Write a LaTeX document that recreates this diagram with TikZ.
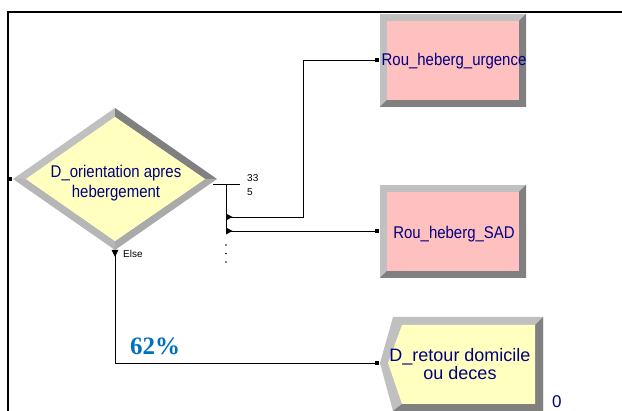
\documentclass[tikz,border=0pt]{standalone}
\usepackage{fontspec}
\setmainfont{Liberation Sans}
\newfontfamily\serifb{Liberation Serif}
\newfontfamily\condfont[FakeStretch=0.88]{Liberation Sans}
\definecolor{navy}{RGB}{0,0,128}
\definecolor{bvlight}{RGB}{192,192,192}
\definecolor{bvdark}{RGB}{128,128,128}
\definecolor{bvmid}{RGB}{170,170,170}
\definecolor{bvmidl}{RGB}{182,182,182}
\definecolor{pinkfill}{RGB}{255,192,192}
\definecolor{yelfill}{RGB}{255,255,192}
\definecolor{pctblue}{RGB}{0,112,192}
\newcommand\bevbox[6]{%
  \fill[bvlight] (#1,#2) rectangle (#3,#4);
  \fill[bvdark] (#3,#2) -- (#3,#4) -- (#1,#4) -- (#1+#5,#4-#5) -- (#3-#5,#4-#5) -- (#3-#5,#2+#5) -- cycle;
  \fill[#6] (#1+#5,#2+#5) rectangle (#3-#5,#4-#5);
}
\begin{document}
\begin{tikzpicture}[x=1pt,y=-1pt,
  conn/.style={line width=0.8pt, black},
  entry/.style={fill=black, inner sep=0pt, minimum size=3.5pt},
  lbl/.style={text=navy, inner sep=0pt, font=\condfont\fontsize{17}{20}\selectfont},
  small/.style={anchor=base west, inner sep=0pt, font=\fontsize{10}{12}\selectfont}]
\useasboundingbox (0,0) rectangle (622,411);
\fill[white] (0,0) rectangle (622,411);

% decision diamond
\coordinate (oL) at (13,179); \coordinate (oT) at (115,108);
\coordinate (oR) at (217,179); \coordinate (oB) at (115,250);
\coordinate (iL) at (26,179); \coordinate (iT) at (115,117);
\coordinate (iR) at (205,179); \coordinate (iB) at (115,241);
\fill[bvlight] (oL) -- (oT) -- (iT) -- (iL) -- cycle;
\fill[bvdark] (oT) -- (oR) -- (iR) -- (iT) -- cycle;
\fill[bvmid] (oR) -- (oB) -- (iB) -- (iR) -- cycle;
\fill[bvmidl] (oB) -- (oL) -- (iL) -- (iB) -- cycle;
\fill[yelfill] (iL) -- (iT) -- (iR) -- (iB) -- cycle;
\node[lbl, align=center] (dec) at (116,183) {D\_orientation apres\\hebergement};
\node[entry] (decIn) at (10,179) {};

% process boxes
\bevbox{380}{14}{526}{107}{7}{pinkfill}
\bevbox{380}{185}{526}{278}{7}{pinkfill}
\node[lbl, anchor=base] (urg) at (454,66) {Rou\_heberg\_urgence};
\node[lbl, anchor=base] (sad) at (454,239) {Rou\_heberg\_SAD};
\node[entry] (urgIn) at (377,60) {};
\node[entry] (sadIn) at (377,231) {};

% decide module
\fill[bvlight] (380,363) -- (393,317) -- (543,317) -- (543,411) -- (393,411) -- cycle;
\fill[bvdark] (543,317) -- (543,411) -- (393,411) -- (402,404) -- (535,404) -- (535,325) -- cycle;
\fill[yelfill] (388,363) -- (402,325) -- (535,325) -- (535,404) -- (402,404) -- cycle;
\node[text=navy, inner sep=0pt, font=\fontsize{18}{16.5}\selectfont, align=center] (ret) at (460,364) {D\_retour domicile\\ou deces};
\node[entry] (retIn) at (377,363) {};
\node[anchor=base west, text=navy, inner sep=0pt, font=\fontsize{17}{20}\selectfont] (cnt) at (552,407.5) {0};

% exit bus
\coordinate (decOut) at (213,184);
\coordinate (stubEnd) at (240,184);
\coordinate (bus) at (226,184);
\coordinate (busEnd) at (226,233);
\coordinate (b1) at (226,217);
\coordinate (b2) at (226,231);
\draw[conn] (decOut) -- (stubEnd);
\draw[conn] (bus) -- (busEnd);
\draw[conn] (b1) -- (303,217) |- (urgIn.west);
\draw[conn] (b2) -- (sadIn.west);
\fill (226,213.5) -- (232.5,217) -- (226,220.5) -- cycle;
\fill (226,227.5) -- (232.5,231) -- (226,234.5) -- cycle;
\fill (226,245) circle (0.8);
\fill (226,253.5) circle (0.8);
\fill (226,262) circle (0.8);
\node[small] (n33) at (247,182) {33};
\node[small] (n5) at (247,196) {5};

% else branch
\coordinate (elseOut) at (115,255);
\fill (111.5,250) -- (118.5,250) -- (115,257) -- cycle;
\draw[conn] (elseOut) -- (115,363) -- (retIn.west);
\node[small] (els) at (123,258) {Else};
\node[anchor=base west, text=pctblue, inner sep=0pt, font=\serifb\bfseries\fontsize{25}{30}\selectfont] (pct) at (130,355) {62\%};

% frame
\draw[line width=1.6pt] (8,411) -- (8,12) -- (622,12);
\end{tikzpicture}
\end{document}
